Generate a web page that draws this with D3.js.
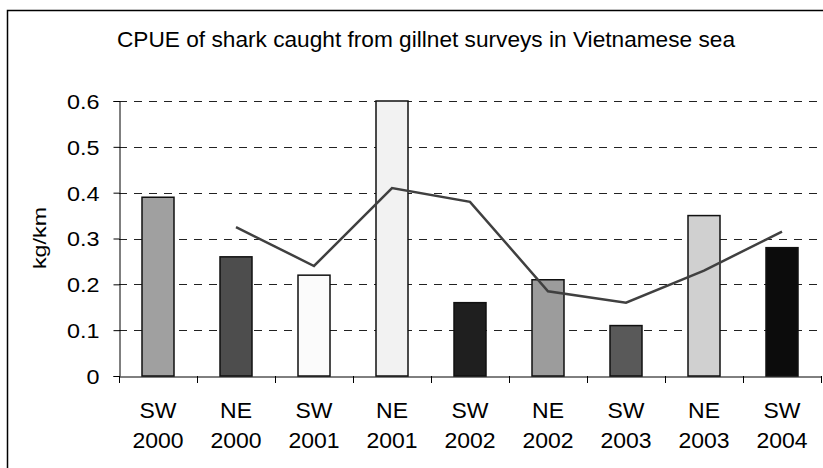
<!DOCTYPE html>
<html>
<head>
<meta charset="utf-8">
<script src="https://cdn.jsdelivr.net/npm/d3@7"></script>
<style>
  html, body { margin: 0; padding: 0; background: #fff; }
  svg { display: block; }
  text { font-family: "Liberation Sans", Arial, sans-serif; fill: #000; }
</style>
</head>
<body>
<svg id="chart" width="823" height="468"></svg>
<script>
// ---- data ----
const title = "CPUE of shark caught from gillnet surveys in Vietnamese sea";
const yLabel = "kg/km";
const seasons = ["SW", "NE", "SW", "NE", "SW", "NE", "SW", "NE", "SW"];
const years = ["2000", "2000", "2001", "2001", "2002", "2002", "2003", "2003", "2004"];
const cpue = [0.39, 0.26, 0.22, 0.60, 0.16, 0.21, 0.11, 0.35, 0.28];
const barColors = ["#a0a0a0", "#4d4d4d", "#fbfbfb", "#f2f2f2", "#1f1f1f", "#9c9c9c", "#595959", "#d0d0d0", "#0c0c0c"];
// trend line (2-period moving average); first category has no point
const trend = [null, 0.325, 0.24, 0.41, 0.38, 0.185, 0.16, 0.23, 0.315];
const yTicks = [0, 0.1, 0.2, 0.3, 0.4, 0.5, 0.6];

// ---- layout ----
const svg = d3.select("#chart");
const plot = { left: 119, right: 821, top: 101, bottom: 376 };
const FONT = '"Liberation Sans", Arial, sans-serif';

// outer frame (extends past right and bottom edges)
svg.append("rect")
  .attr("x", 7.5).attr("y", 10.5)
  .attr("width", 860).attr("height", 500)
  .attr("fill", "#fff").attr("stroke", "#000").attr("stroke-width", 1.5);

const keys = cpue.map((d, i) => i);
const x = d3.scaleBand().domain(keys).range([plot.left, plot.right]).paddingInner(0).paddingOuter(0);
const y = d3.scaleLinear().domain([0, 0.6]).range([plot.bottom, plot.top]);

// title
svg.append("text")
  .attr("x", 426).attr("y", 47)
  .attr("text-anchor", "middle")
  .attr("textLength", 618).attr("lengthAdjust", "spacingAndGlyphs")
  .style("font-size", "21.5px")
  .text(title);

// gridlines
svg.append("g")
  .selectAll("line")
  .data(yTicks.filter(t => t > 0))
  .join("line")
  .attr("x1", plot.left).attr("x2", plot.right)
  .attr("y1", d => Math.round(y(d)) + 0.5).attr("y2", d => Math.round(y(d)) + 0.5)
  .attr("stroke", "#222").attr("stroke-width", 1)
  .attr("stroke-dasharray", "8,7");

// y axis
const yAxis = d3.axisLeft(y).tickValues(yTicks).tickSize(6).tickFormat("");
const gy = svg.append("g").attr("transform", `translate(${plot.left + 0.5},0)`).call(yAxis);
gy.select(".domain").attr("stroke", "#000");
gy.selectAll(".tick line").attr("stroke", "#000");
gy.selectAll(".tick").append("text")
  .attr("text-anchor", "end")
  .attr("dy", "0.36em")
  .attr("transform", "translate(-20,0) scale(1.14,1)")
  .attr("fill", "#000")
  .style("font-size", "20.5px")
  .style("font-family", FONT)
  .text(d => d === 0 ? "0" : d3.format(".1f")(d));

// bars
const bw = 32;
svg.append("g")
  .selectAll("rect")
  .data(cpue)
  .join("rect")
  .attr("x", (d, i) => x(i) + x.bandwidth() / 2 - bw / 2)
  .attr("y", d => y(d))
  .attr("width", bw)
  .attr("height", d => y(0) - y(d))
  .attr("fill", (d, i) => barColors[i])
  .attr("stroke", "#111").attr("stroke-width", 1.5);

// x axis
const xAxis = d3.axisBottom(x).tickSize(0).tickFormat("");
const gx = svg.append("g").attr("transform", `translate(0,${plot.bottom + 0.5})`).call(xAxis);
gx.select(".domain").attr("stroke", "#000");
// boundary ticks
const bounds = keys.map(k => x(k)).concat([x(keys[keys.length - 1]) + x.bandwidth()]);
svg.append("g").selectAll("line").data(bounds).join("line")
  .attr("x1", d => Math.round(d) + 0.5).attr("x2", d => Math.round(d) + 0.5)
  .attr("y1", plot.bottom).attr("y2", plot.bottom + 7)
  .attr("stroke", "#000");

// x labels (two lines)
const lab = svg.append("g").selectAll("text").data(keys).join("text")
  .attr("text-anchor", "middle")
  .attr("transform", d => `translate(${x(d) + x.bandwidth() / 2},0) scale(1.07,1)`)
  .style("font-size", "21.5px");
lab.append("tspan").attr("x", 0).attr("y", 418).text(d => seasons[d]);
lab.append("tspan").attr("x", 0).attr("y", 448).text(d => years[d]);

// trend line
const line = d3.line()
  .defined(d => d != null)
  .x((d, i) => x(i) + x.bandwidth() / 2)
  .y(d => y(d));
svg.append("path")
  .datum(trend)
  .attr("d", line)
  .attr("fill", "none")
  .attr("stroke", "#404040")
  .attr("stroke-width", 2.5);

// y label
svg.append("text")
  .attr("transform", "translate(46,238) rotate(-90)")
  .attr("text-anchor", "middle")
  .attr("textLength", 62).attr("lengthAdjust", "spacingAndGlyphs")
  .style("font-size", "18.5px")
  .text(yLabel);
</script>
</body>
</html>
